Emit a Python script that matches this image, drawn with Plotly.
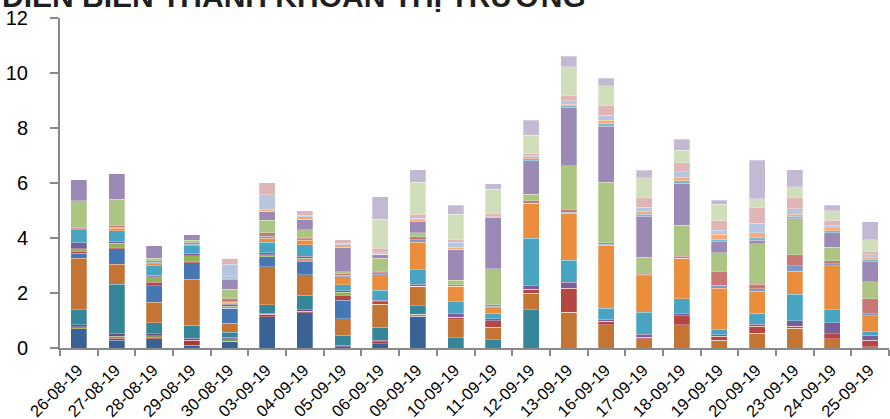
import plotly.graph_objects as go

# Trading dates (category axis)
dates = ["26-08-19", "27-08-19", "28-08-19", "29-08-19", "30-08-19", "03-09-19",
         "04-09-19", "05-09-19", "06-09-19", "09-09-19", "10-09-19", "11-09-19",
         "12-09-19", "13-09-19", "16-09-19", "17-09-19", "18-09-19", "19-09-19",
         "20-09-19", "23-09-19", "24-09-19", "25-09-19"]

# Stacked components, bottom to top (one value per date)
s01 = [0.70, 0.28, 0.33, 0.10, 0.25, 1.13, 1.28, 0.04, 0.15, 1.15, 0, 0, 0, 0, 0, 0, 0, 0, 0, 0, 0, 0]
s02 = [0, 0.07, 0.06, 0.18, 0, 0.10, 0.06, 0, 0.08, 0, 0, 0, 0, 0, 0, 0, 0, 0, 0, 0, 0, 0]
s03 = [0.08, 0.07, 0.06, 0, 0.08, 0, 0, 0, 0, 0.08, 0, 0, 0, 0, 0, 0, 0, 0, 0, 0, 0, 0]
s04 = [0.06, 0.09, 0.06, 0.08, 0.06, 0.03, 0.06, 0.06, 0.06, 0, 0, 0, 0, 0, 0, 0, 0, 0, 0, 0, 0, 0]
s05 = [0.55, 1.81, 0.40, 0.46, 0.18, 0.31, 0.52, 0.37, 0.46, 0.31, 0.37, 0.30, 1.40, 0, 0, 0, 0, 0, 0, 0, 0, 0]
s06 = [1.88, 0.73, 0.75, 1.68, 0.33, 1.38, 0.75, 0.59, 0.85, 0.70, 0.65, 0.45, 0.60, 1.30, 0.85, 0.33, 0.85, 0.28, 0.53, 0.71, 0.34, 0.05]
s07 = [0.18, 0.56, 0.61, 0.60, 0.54, 0.37, 0.49, 0.67, 0, 0, 0, 0, 0, 0, 0, 0, 0, 0, 0, 0, 0, 0]
s08 = [0.06, 0.06, 0.12, 0.06, 0, 0, 0.04, 0.19, 0.08, 0, 0.10, 0.24, 0.14, 0.87, 0.12, 0.07, 0.33, 0.14, 0.27, 0.08, 0.17, 0.23]
s09 = [0.10, 0.14, 0.20, 0.20, 0.08, 0.08, 0.07, 0.10, 0, 0, 0, 0, 0, 0, 0, 0, 0, 0, 0, 0, 0, 0]
s10 = [0.21, 0.06, 0.06, 0.07, 0.07, 0.06, 0.06, 0.06, 0.06, 0.07, 0.12, 0.08, 0.12, 0.22, 0.08, 0.10, 0.06, 0.06, 0.06, 0.21, 0.40, 0.18]
s11 = [0.48, 0.40, 0.34, 0.29, 0.04, 0.39, 0.42, 0.22, 0.36, 0.53, 0.45, 0.19, 1.74, 0.81, 0.40, 0.80, 0.55, 0.18, 0.40, 0.95, 0.48, 0.13]
s12 = [0, 0.08, 0.08, 0, 0.03, 0.14, 0.17, 0.30, 0.56, 1.01, 0.55, 0.20, 1.27, 1.70, 2.28, 1.33, 1.48, 1.51, 0.81, 0.84, 1.60, 0.58]
s13 = [0.04, 0.04, 0.05, 0.05, 0.03, 0.08, 0.05, 0.05, 0.08, 0.08, 0, 0.06, 0, 0.04, 0.05, 0, 0, 0.11, 0.08, 0.21, 0.07, 0.07]
s14 = [0.04, 0.06, 0.05, 0.05, 0.10, 0.12, 0.05, 0.05, 0.06, 0.12, 0.06, 0.06, 0.08, 0.10, 0.05, 0.06, 0.07, 0.52, 0.16, 0.40, 0.12, 0.55]
s15 = [0.97, 0.96, 0.10, 0.10, 0.35, 0.46, 0.28, 0.08, 0.46, 0.15, 0.16, 1.30, 0.25, 1.58, 2.19, 0.61, 1.13, 0.67, 1.49, 1.26, 0.48, 0.62]
s16 = [0.79, 0.92, 0.45, 0.20, 0.34, 0.33, 0.39, 0.89, 0.15, 0.39, 1.14, 1.85, 1.21, 2.13, 2.05, 1.50, 1.53, 0.40, 0.11, 0.05, 0.53, 0.72]
s17 = [0, 0, 0, 0, 0.06, 0, 0, 0, 0, 0, 0, 0, 0.07, 0.06, 0.10, 0.07, 0.08, 0.08, 0.10, 0.08, 0.08, 0.08]
s18 = [0, 0, 0, 0, 0.06, 0.06, 0.08, 0.08, 0, 0.07, 0.07, 0, 0.07, 0.06, 0.12, 0.08, 0.13, 0.18, 0.18, 0.08, 0.10, 0.08]
s19 = [0, 0, 0, 0, 0.45, 0.54, 0.06, 0.06, 0.06, 0.06, 0.18, 0.05, 0.05, 0.12, 0.18, 0.16, 0.20, 0.16, 0.35, 0.19, 0.10, 0.10]
s20 = [0, 0, 0, 0, 0.22, 0.43, 0.16, 0.12, 0.15, 0.15, 0.08, 0.10, 0.07, 0.20, 0.34, 0.35, 0.33, 0.33, 0.58, 0.41, 0.18, 0.12]
s21 = [0, 0, 0, 0, 0, 0, 0, 0, 1.06, 1.15, 0.94, 0.90, 0.66, 1.03, 0.73, 0.73, 0.46, 0.61, 0.31, 0.40, 0.34, 0.42]
s22 = [0, 0, 0, 0, 0, 0, 0, 0, 0.82, 0.46, 0.33, 0.20, 0.55, 0.39, 0.27, 0.28, 0.40, 0.15, 1.39, 0.61, 0.20, 0.67]

components = [s01, s02, s03, s04, s05, s06, s07, s08, s09, s10, s11,
              s12, s13, s14, s15, s16, s17, s18, s19, s20, s21, s22]

colors = ["#3B6294", "#A33D3A", "#7D9A48", "#664E85", "#36869A", "#C47433",
          "#4677B4", "#B64642", "#93B356", "#7A5E9C", "#48A4C0", "#EA8E3E",
          "#7B9ACB", "#CA7876", "#ADC583", "#9C89B5", "#70BCD0", "#F7A977",
          "#B6C5E0", "#DFB6B5", "#D1DEBC", "#C4B9D3"]

fig = go.Figure()
for i, (vals, col) in enumerate(zip(components, colors)):
    fig.add_trace(go.Bar(
        x=dates, y=vals, name=f"Nhóm {i + 1}",
        marker=dict(color=col, line=dict(color="rgba(255,255,255,0.45)", width=0.6)),
        showlegend=False,
    ))

axis_grey = "#898989"
fig.update_layout(
    barmode="stack",
    bargap=0.575,
    width=890, height=419,
    margin=dict(l=60, r=1, t=18, b=71),
    plot_bgcolor="white", paper_bgcolor="white",
    font=dict(family="Liberation Sans, Arial, sans-serif", color="#000000"),
    xaxis=dict(
        type="category", showline=True, linecolor=axis_grey, linewidth=2,
        ticks="outside", tickson="boundaries", ticklen=6, tickwidth=2, tickcolor=axis_grey,
        tickangle=-45, tickfont=dict(size=16.5), showgrid=False,
        ticklabelshift=-1, ticklabelstandoff=4, automargin=False,
    ),
    yaxis=dict(
        range=[0, 12], dtick=2, showline=True, linecolor=axis_grey, linewidth=2,
        ticks="outside", ticklen=8, tickwidth=2, tickcolor=axis_grey,
        tickfont=dict(size=20), showgrid=False, zeroline=False,
        ticklabelstandoff=18, automargin=False,
    ),
    annotations=[dict(
        text="<b>DIỄN BIẾN THANH KHOẢN THỊ TRƯỜNG</b>",
        xref="paper", yref="paper", x=0, y=1, xshift=-60, yshift=3,
        xanchor="left", yanchor="bottom", showarrow=False,
        font=dict(size=30, color="#1f1f1f", family="Liberation Sans, Arial, sans-serif"),
    )],
)

fig.write_html("out.html")
